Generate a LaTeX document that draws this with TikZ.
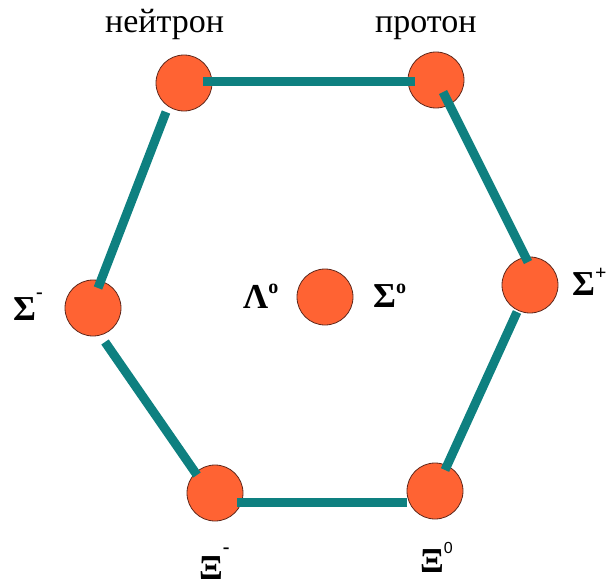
\documentclass[tikz,border=0pt]{standalone}
\usepackage{fontspec}
\setmainfont{Liberation Serif}
\newfontfamily\digitfont{Liberation Sans}
\usetikzlibrary{calc}
\definecolor{hadron}{RGB}{255,99,51}
\definecolor{rim}{RGB}{95,40,28}
\definecolor{octet}{RGB}{14,128,128}
\newcommand{\upidx}[2]{\raisebox{#1pt}{\fontsize{20}{20}\selectfont #2}}

\begin{document}
\begin{tikzpicture}[x=1pt, y=-1pt,
  particle/.style={circle, draw=rim, line width=0.8pt, fill=hadron, minimum size=56pt, inner sep=0pt},
  link/.style={octet, line width=9pt},
  wordlab/.style={anchor=base west, inner sep=0pt, font=\fontsize{34}{40}\selectfont},
  sym/.style={anchor=base west, inner sep=0pt, font=\fontsize{35}{40}\selectfont\bfseries}]
  \useasboundingbox (0,0) rectangle (612,578);
  % particles of the baryon octet
  \node[particle] (nt) at (184,83) {};
  \node[particle] (pr) at (436,80) {};
  \node[particle] (sm) at (93,308) {};
  \node[particle] (lz) at (325,297) {};
  \node[particle] (sp) at (530,285) {};
  \node[particle] (xm) at (215,493) {};
  \node[particle] (xz) at (435,491) {};
  % hexagon edges
  \foreach \a/\b/\ax/\ay/\bx/\by in {nt/pr/19/-2/-21/1, nt/sm/-18/29/5/-20,
      pr/sp/7/12/-2/-23, sm/xm/12/34/-18/-18, sp/xz/-13/27/10/-21, xm/xz/22/9/-28/11}
    \draw[link] ($(\a)+(\ax,\ay)$) -- ($(\b)+(\bx,\by)$);
  % labels
  \node[wordlab] (ntlab) at (105,33) {нейтрон};
  \node[wordlab] (prlab) at (375,33) {протон};
  \node[sym] (smlab) at (13,320) {Σ\upidx{22}{-}};
  \node[sym] (splab) at (572,295) {Σ\upidx{16}{+}};
  \node[sym] (lzlab) at (243,308) {Λ\upidx{15}{o}};
  \node[sym] (szlab) at (373,307) {Σ\upidx{14}{o}};
  \node[sym] (xmlab) at (199,579) {Ξ\upidx{26}{-}};
  \node[sym] (xzlab) at (420,572) {Ξ\upidx{19}{\mdseries\digitfont\fontsize{16}{16}\selectfont 0}};
\end{tikzpicture}
\end{document}
